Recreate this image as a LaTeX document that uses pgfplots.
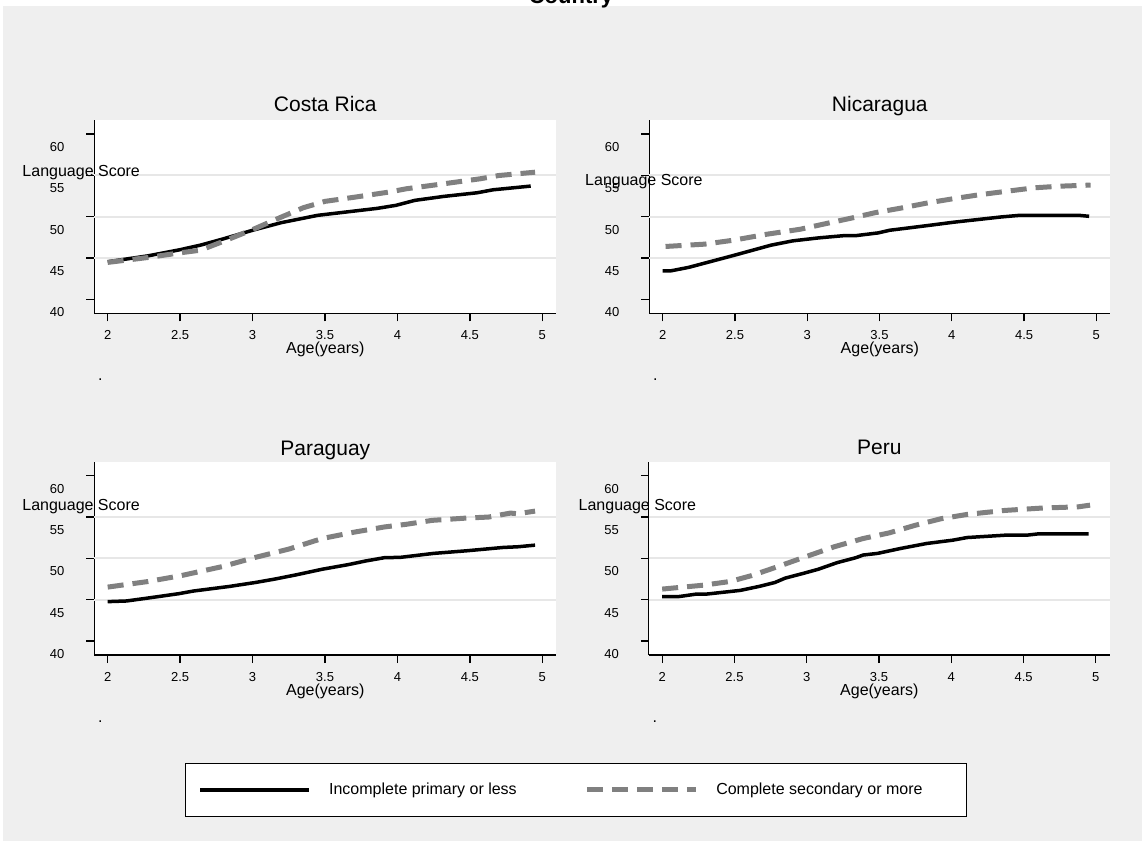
\documentclass[border=0pt]{standalone}
\usepackage{pgfplots}
\pgfplotsset{compat=1.18}
\usepackage{fontspec}
\setmainfont{Liberation Sans}
\definecolor{bggray}{RGB}{239,239,239}
\definecolor{gridgray}{RGB}{231,231,231}
\definecolor{dashgray}{RGB}{128,128,128}

\pgfplotsset{
  every axis title shift=0pt,
  panel/.style={
    scale only axis, height=193.3pt, anchor=south west, clip=false,
    xmin=1.9075, xmax=5.0966, ymin=38.3, ymax=61.7,
    axis x line*=bottom, axis y line*=left,
    axis line style={line width=1.3pt, black, -},
    axis background/.style={fill=white},
    xtick={2,2.5,3,3.5,4,4.5,5},
    xticklabels={2,2.5,3,3.5,4,4.5,5},
    ytick={40,45,50,55,60},
    yticklabels={40,45,50,55,60},
    /pgf/number format/assume math mode=true,
    tick align=outside, major tick length=8pt,
    tick style={line width=1.3pt, black},
    extra y ticks={45,50,55}, extra y tick labels={},
    extra y tick style={grid=major, major tick length=0pt, major grid style={line width=2pt, gridgray}},
    xticklabel style={anchor=base, inner sep=0pt, yshift=-18pt, font=\fontsize{13}{13}\selectfont},
    yticklabel style={anchor=base east, inner sep=0pt, xshift=-21.8pt, yshift=-17.4pt, font=\fontsize{13}{13}\selectfont},
    xlabel={Age(years)},
    xlabel style={at={(axis description cs:0.5,0)}, anchor=base, inner sep=0pt, yshift=-40.7pt, font=\fontsize{16}{16}\selectfont},
    ylabel={Language Score},
    title style={at={(axis description cs:0.5,1)}, anchor=base, inner sep=0pt, font=\fontsize{21}{21}\selectfont},
  },
  solidline/.style={line width=3.5pt, black, line join=round},
  dashline/.style={line width=5pt, dashgray, dash pattern=on 16pt off 9pt},
}
\newcommand{\dotnote}{\node[anchor=base west, inner sep=0pt, font=\fontsize{16}{16}\selectfont] at ([xshift=3.5pt, yshift=-67pt]rel axis cs:0,0) {.};}

\begin{document}
\begin{tikzpicture}
\useasboundingbox (0pt,0pt) rectangle (1142pt,841pt);
\fill[white] (0pt,0pt) rectangle (1142pt,841pt);
\fill[bggray] (3pt,0pt) rectangle (1142pt,835pt);
\node[anchor=base, inner sep=0pt, font=\bfseries\fontsize{22}{22}\selectfont] at (571pt,837pt) {Country};

% Costa Rica
\begin{axis}[panel, at={(94.3pt,527.7pt)}, width=462pt, title={Costa Rica},
  title style={yshift=8.3pt},
  ylabel style={rotate=-90, at={(axis description cs:0,1)}, anchor=base west, inner sep=0pt, font=\fontsize{16}{16}\selectfont, xshift=-72pt, yshift=-56.3pt}]
\addplot[solidline] coordinates {(2.00,44.54) (2.28,45.26) (2.50,46.00) (2.64,46.55) (2.79,47.27) (3.00,48.35) (3.20,49.28) (3.45,50.16) (3.86,51.00) (3.99,51.37) (4.12,51.97) (4.32,52.45) (4.55,52.89) (4.66,53.25) (4.92,53.70)};
\addplot[dashline] coordinates {(2.00,44.46) (2.28,45.06) (2.50,45.62) (2.64,45.94) (2.79,46.95) (3.00,48.43) (3.20,49.96) (3.35,51.08) (3.50,51.85) (3.71,52.37) (3.94,52.97) (4.06,53.37) (4.32,53.98) (4.57,54.58) (4.70,54.98) (4.95,55.38)};
\dotnote
\end{axis}

% Nicaragua
\begin{axis}[panel, at={(649.3pt,527.7pt)}, width=461pt, title={Nicaragua},
  title style={yshift=8.3pt},
  ylabel style={rotate=-90, at={(axis description cs:0,1)}, anchor=base west, inner sep=0pt, font=\fontsize{16}{16}\selectfont, xshift=-64.3pt, yshift=-65.3pt}]
\addplot[solidline] coordinates {(2.00,43.45) (2.06,43.45) (2.18,43.86) (2.49,45.30) (2.75,46.55) (2.90,47.07) (3.08,47.43) (3.26,47.71) (3.34,47.71) (3.49,48.03) (3.57,48.35) (3.85,48.96) (4.01,49.32) (4.34,49.96) (4.47,50.16) (4.63,50.16) (4.88,50.16) (4.95,50.04)};
\addplot[dashline] coordinates {(2.02,46.39) (2.29,46.67) (2.49,47.15) (2.72,47.87) (2.95,48.47) (3.13,49.16) (3.31,49.84) (3.47,50.48) (3.65,51.04) (3.83,51.65) (4.01,52.17) (4.19,52.65) (4.37,53.05) (4.57,53.49) (4.75,53.69) (4.96,53.82)};
\dotnote
\end{axis}

% Paraguay
\begin{axis}[panel, at={(94.3pt,186pt)}, width=462pt, title={Paraguay},
  title style={yshift=6.7pt},
  ylabel style={rotate=-90, at={(axis description cs:0,1)}, anchor=base west, inner sep=0pt, font=\fontsize{16}{16}\selectfont, xshift=-72.1pt, yshift=-48.3pt},
  legend columns=2,
  legend image code/.code={\draw[#1] (0pt,0pt) -- (109pt,0pt);},
  legend style={at={(axis description cs:0.19632,-0.83807)}, anchor=south west,
    draw=black, line width=1.3pt, fill=white, inner xsep=13pt, inner ysep=20pt,
    nodes={inner sep=0pt}, column sep=0pt,
    font=\fontsize{16}{16}\selectfont,
    /tikz/every odd column/.append style={column sep=18pt},
    /tikz/every even column/.append style={column sep=67.5pt}}]
\addplot[solidline] coordinates {(2.00,44.76) (2.13,44.84) (2.28,45.20) (2.49,45.72) (2.59,46.04) (2.84,46.60) (3.02,47.08) (3.15,47.48) (3.30,48.00) (3.48,48.68) (3.66,49.24) (3.78,49.68) (3.91,50.08) (4.02,50.12) (4.25,50.60) (4.48,50.92) (4.58,51.08) (4.73,51.32) (4.83,51.40) (4.95,51.60)};
\addlegendentry{Incomplete primary or less}
\addplot[dashline] coordinates {(2.00,46.52) (2.28,47.20) (2.51,47.92) (2.79,49.00) (3.02,50.12) (3.25,51.12) (3.48,52.40) (3.71,53.20) (3.91,53.80) (4.06,54.12) (4.24,54.60) (4.48,54.88) (4.63,55.00) (4.78,55.48) (4.83,55.40) (4.95,55.72)};
\addlegendentry{Complete secondary or more\hspace*{31pt}}
\dotnote
\end{axis}

% Peru
\begin{axis}[panel, at={(648.8pt,186pt)}, width=461pt, title={Peru},
  title style={yshift=6.7pt},
  ylabel style={rotate=-90, at={(axis description cs:0,1)}, anchor=base west, inner sep=0pt, font=\fontsize{16}{16}\selectfont, xshift=-70.3pt, yshift=-48.3pt}]
\addplot[solidline] coordinates {(2.00,45.36) (2.11,45.36) (2.24,45.68) (2.31,45.68) (2.54,46.12) (2.67,46.60) (2.78,47.08) (2.85,47.60) (2.98,48.20) (3.08,48.68) (3.21,49.48) (3.34,50.08) (3.39,50.40) (3.49,50.60) (3.65,51.20) (3.83,51.80) (4.01,52.20) (4.11,52.52) (4.37,52.80) (4.52,52.80) (4.60,52.96) (4.95,52.96)};
\addplot[dashline] coordinates {(2.00,46.28) (2.29,46.76) (2.47,47.20) (2.62,47.92) (2.80,49.00) (2.98,50.12) (3.19,51.40) (3.39,52.40) (3.57,53.08) (3.75,54.00) (3.93,54.80) (4.11,55.32) (4.37,55.80) (4.62,56.08) (4.88,56.24) (4.96,56.44)};
\dotnote
\end{axis}
\end{tikzpicture}
\end{document}
